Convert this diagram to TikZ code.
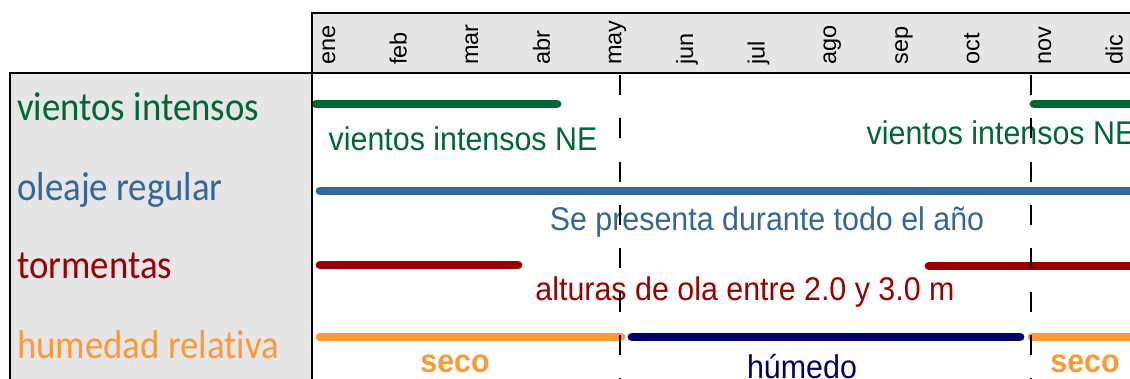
\documentclass[tikz,border=0pt]{standalone}
\usepackage{fontspec}
\setmainfont{Liberation Sans}
\newfontfamily\rowfont[Ligatures=NoCommon]{Carlito}
\usepackage{tikz}
\usetikzlibrary{positioning}
\definecolor{windgreen}{HTML}{006633}
\definecolor{waveblue}{HTML}{336699}
\definecolor{stormred}{HTML}{990000}
\definecolor{dryorange}{HTML}{FF9933}
\definecolor{wetnavy}{HTML}{000066}
\definecolor{panelgray}{HTML}{E6E6E6}

\begin{document}
\begin{tikzpicture}[
		x=0.75pt,y=-0.75pt,
		Bars/.style={line width=6.6pt,line cap=round},
		Frame/.style={draw=black,line width=1.5pt},
		Season/.style={draw=black,line width=1.3pt,dash pattern=on 15pt off 17.5pt},
		RowLabel/.style={anchor=base west,inner sep=0pt,yscale=1.1,transform shape,font=\rowfont\fontsize{27.6}{30}\selectfont},
		BarText/.style={anchor=base,inner sep=0pt,yscale=1.08,transform shape,font=\fontsize{22.8}{26}\selectfont},
		BoldText/.style={anchor=base,inner sep=0pt,yscale=1.08,transform shape,font=\bfseries\fontsize{22.8}{26}\selectfont},
		MonthLabel/.style={rotate=90,anchor=base west,inner sep=0pt,font=\fontsize{17.6}{19}\selectfont}
		]
		\useasboundingbox (0,0) rectangle (1130,378);
		\clip (0,0) rectangle (1130,378);
		
		% panels
		\fill[panelgray] (312,13) rectangle (1150,73);
		\fill[panelgray] (10,73) rectangle (312,400);
		
		% months
		\foreach \m [count=\i from 0] in {ene,feb,mar,abr,may,jun,jul,ago,sep,oct,nov,dic}
		\node[MonthLabel] (mes\i) at ({335+71.6*\i},65) {\m};
		
		% bars
		\draw[Bars,windgreen] (316,104)--(557,104);
		\draw[Bars,windgreen] (1034,104)--(1150,104);
		\draw[Bars,waveblue] (320,191)--(1150,191);
		\draw[Bars,stormred] (320,265)--(518,265);
		\draw[Bars,stormred] (929,266)--(1150,266);
		\draw[Bars,dryorange] (320,337)--(621,337);
		\draw[Bars,wetnavy] (632,337)--(1020,337);
		\draw[Bars,dryorange] (1032,337)--(1150,337);
		
		% row labels
		\node[RowLabel,windgreen] (rowviento) at (17,120) {vientos intensos};
		\node[RowLabel,waveblue] (rowoleaje) at (17,200) {oleaje regular};
		\node[RowLabel,stormred] (rowtormenta) at (17,278) {tormentas};
		\node[RowLabel,dryorange] (rowhumedad) at (17,358) {humedad relativa};
		
		% texts in the chart
		\node[BarText,windgreen] (vientoA) at (463,150) {vientos intensos NE};
		\node[BarText,windgreen] (vientoB) at (1001,144) {vientos intensos NE};
		\node[BarText,waveblue] (oleaje) at (767,230) {Se presenta durante todo el año};
		\node[BarText,stormred] (alturas) at (745,300) {alturas de ola entre 2.0 y 3.0 m};
		\node[BoldText,dryorange] (secoA) at (455,372) {seco};
		\node[BoldText,dryorange] (secoB) at (1085,372) {seco};
		\node[BarText,wetnavy] (humedo) at (802,378) {húmedo};
		
		% season limits
		\coordinate (may) at (620,75);
		\coordinate (nov) at (1031,75);
		\draw[Season] (may)--++(0,320);
		\draw[Season] (nov)--++(0,320);
		
		% frame
		\draw[Frame] (1150,13)--(312,13)--(312,400);
		\draw[Frame] (10,400)--(10,73)--(1150,73);
		
\end{tikzpicture}
\end{document}
